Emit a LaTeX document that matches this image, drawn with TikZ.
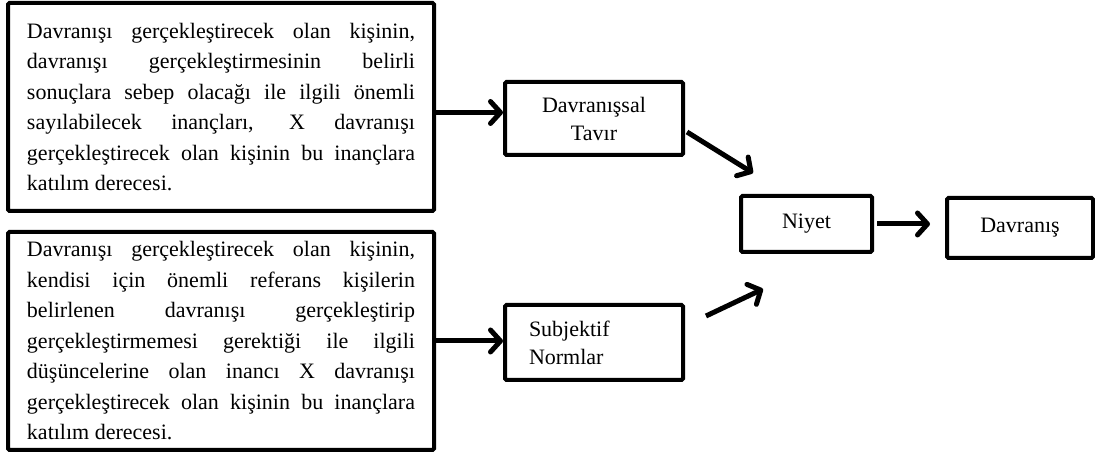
\documentclass[tikz,border=0pt]{standalone}
\usepackage{fontspec}
\setmainfont{Liberation Serif}
\usetikzlibrary{arrows.meta}
\hyphenpenalty=10000
\exhyphenpenalty=10000

\begin{document}
\begin{tikzpicture}[x=1pt, y=1pt, line width=4pt, font=\fontsize{22}{30.5}\selectfont]
    \tikzset{box/.style={draw=black, rectangle, rounded corners=1.5pt, inner sep=0pt}};
    \tikzset{arr/.style={line width=5pt, -{Straight Barb[length=10pt,width=22pt,round]}}};
    \useasboundingbox (0,0) rectangle (1095,452);
    \node[box, minimum width=426pt, minimum height=208pt, text width=388pt, align=justify] (sB1) at (221,345) {Davranışı gerçekleştirecek olan kişinin,\linebreak
      davranışı gerçekleştirmesinin belirli\linebreak
      sonuçlara sebep olacağı ile ilgili önemli\linebreak
      sayılabilecek inançları, X davranışı\linebreak
      gerçekleştirecek olan kişinin bu inançlara\linebreak
      katılım derecesi.};
    \node[box, minimum width=426pt, minimum height=218pt, text width=388pt, align=justify] (sB2) at (221,111) {Davranışı gerçekleştirecek olan kişinin,\linebreak
      kendisi için önemli referans kişilerin\linebreak
      belirlenen davranışı gerçekleştirip\linebreak
      gerçekleştirmemesi gerektiği ile ilgili\linebreak
      düşüncelerine olan inancı X davranışı\linebreak
      gerçekleştirecek olan kişinin bu inançlara\linebreak
      katılım derecesi.};
    \node[box, minimum width=178pt, minimum height=73pt, font=\fontsize{22}{28}\selectfont, align=center] (sT) at (594,333.5) {Davranışsal\\Tavır};
    \node[box, minimum width=178pt, minimum height=75pt, text width=130pt, inner xsep=24pt, font=\fontsize{22}{28}\selectfont, align=left] (sN) at (594,109.5) {Subjektif\\Normlar};
    \node[box, minimum width=131pt, minimum height=56pt] (sI) at (806.5,228) {Niyet};
    \node[box, minimum width=146pt, minimum height=60pt] (sD) at (1020,224) {Davranış};
    \coordinate (tA) at (687,320);
    \coordinate (tB) at (753,279);
    \coordinate (nA) at (706,136);
    \coordinate (nB) at (763,163);
    {
      \path[arr]
        ([yshift=6pt]sT.west -| sB1.east) edge ([yshift=6pt]sT.west)
        (sB2.east) edge (sB2.east -| sN.west)
        (tA) edge (tB)
        (nA) edge (nB)
        (sI.east) edge[shorten <=3pt, shorten >=15pt] (sI.east -| sD.west)
        ;
      }
\end{tikzpicture}
\end{document}
